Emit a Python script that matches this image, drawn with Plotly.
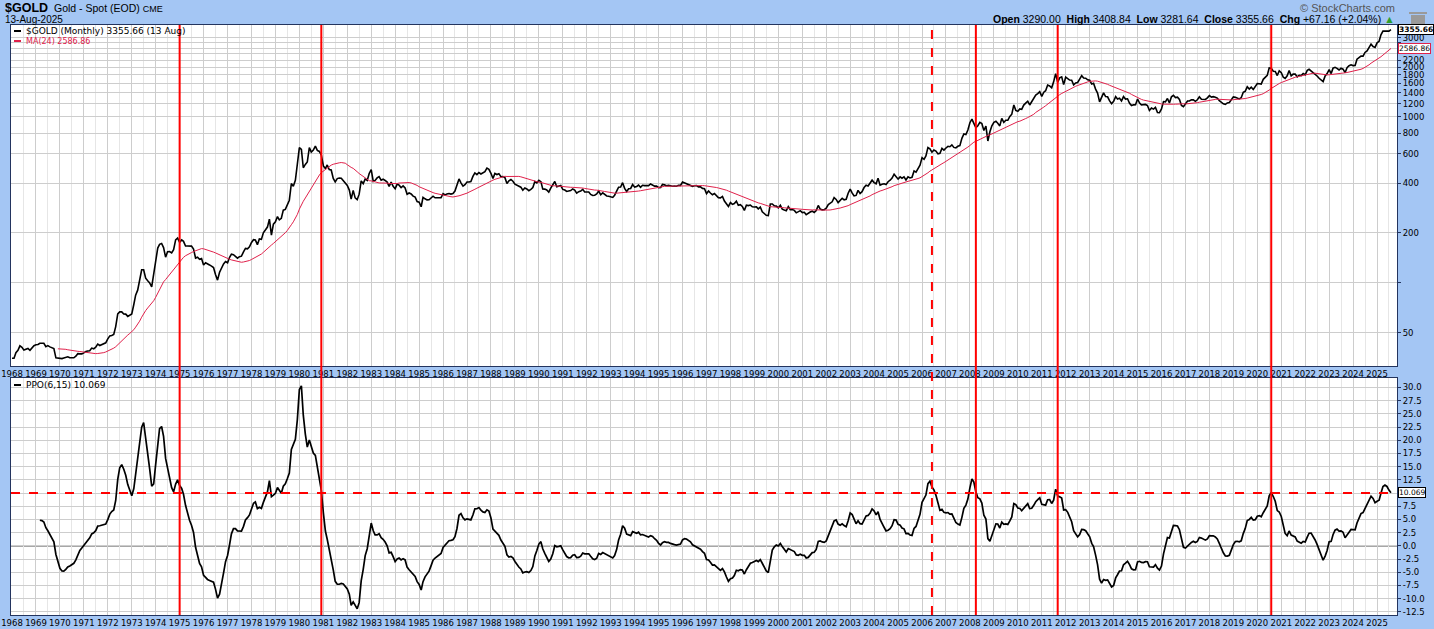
import numpy as np
import pandas as pd
import plotly.graph_objects as go

# ---------------- data: monthly closes of $GOLD ----------------
gold_1968_1979 = [
    35.2, 35.2, 38.0, 39.3, 41.8, 41.0, 39.4, 39.7, 40.3, 39.3, 40.4, 41.9,
    42.4, 42.6, 43.3, 43.4, 43.3, 41.3, 41.9, 41.2, 40.8, 40.3, 35.4, 35.2,
    34.9, 35.0, 35.3, 35.7, 35.9, 35.4, 35.3, 35.4, 36.2, 37.5, 37.4, 37.4,
    37.9, 38.7, 38.9, 39.0, 40.5, 40.1, 41.0, 42.8, 42.0, 42.5, 42.9, 43.6,
    46.0, 48.0, 48.3, 49.0, 54.6, 65.1, 67.0, 67.0, 65.0, 64.9, 62.9, 63.9,
    65.1, 74.2, 84.4, 90.5, 102.0, 120.1, 120.0, 106.8, 103.0, 100.1, 94.8, 112.3,
    139.3, 162.3, 171.0, 172.9, 163.3, 143.0, 154.1, 154.6, 151.8, 158.8, 181.8, 186.5,
    175.8, 181.8, 178.2, 167.0, 167.0, 166.3, 166.7, 159.8, 141.3, 142.9, 138.8, 140.3,
    128.2, 132.3, 129.6, 128.4, 126.3, 123.8, 112.5, 104.0, 116.0, 123.2, 130.3, 134.5,
    132.3, 142.8, 149.2, 148.0, 143.8, 141.0, 144.1, 145.0, 154.1, 161.5, 160.5, 165.0,
    175.3, 182.3, 181.6, 170.1, 184.2, 183.1, 200.3, 208.7, 217.1, 242.6, 194.3, 226.0,
    233.7, 251.3, 240.1, 245.3, 274.6, 277.5, 296.5, 315.1, 397.3, 382.0, 415.7, 512.0,
]
gold_1980_1991 = [
    653.0, 637.0, 494.5, 518.0, 535.5, 653.5, 614.3, 631.3, 666.8, 629.0, 619.8, 589.8,
    506.5, 489.0, 513.8, 482.8, 479.3, 426.0, 406.0, 425.5, 428.8, 427.0, 414.5, 397.5,
    387.0, 362.6, 320.0, 361.3, 325.3, 317.5, 342.8, 411.5, 397.0, 423.3, 414.3, 456.9,
    481.0, 408.5, 414.8, 429.3, 437.5, 416.0, 422.0, 414.3, 405.0, 382.0, 405.0, 382.4,
    370.0, 394.3, 388.5, 375.8, 384.3, 373.1, 342.4, 348.3, 343.8, 333.5, 329.0, 309.0,
    306.7, 287.8, 328.0, 321.4, 316.6, 317.0, 327.0, 333.3, 326.0, 325.5, 325.3, 326.8,
    345.5, 338.8, 344.0, 345.8, 343.2, 345.5, 357.5, 384.7, 423.2, 401.0, 383.5, 390.9,
    405.5, 405.9, 408.0, 438.3, 460.0, 449.3, 462.5, 453.4, 459.5, 468.8, 492.5, 484.1,
    458.0, 426.2, 456.9, 450.0, 455.5, 436.6, 437.4, 431.0, 397.5, 412.4, 420.2, 410.2,
    394.0, 387.0, 383.2, 377.6, 361.8, 373.0, 368.3, 359.8, 366.5, 375.3, 408.2, 401.0,
    415.1, 407.7, 368.5, 367.8, 363.1, 352.2, 372.3, 387.8, 408.4, 379.5, 384.9, 386.2,
    366.0, 362.7, 355.7, 357.8, 360.4, 368.4, 362.9, 347.4, 354.9, 357.5, 366.3, 353.2,
]
gold_1992_2003 = [
    354.1, 353.1, 341.7, 336.4, 337.5, 343.4, 357.8, 340.0, 349.0, 339.3, 334.2, 333.3,
    330.5, 327.6, 337.8, 354.3, 377.5, 378.5, 401.8, 371.6, 355.5, 369.6, 370.9, 391.8,
    377.9, 381.6, 389.2, 376.5, 387.6, 385.8, 384.0, 385.8, 394.9, 389.1, 383.1, 383.3,
    374.9, 376.4, 392.0, 389.8, 385.3, 387.1, 383.4, 382.4, 384.0, 382.7, 387.8, 387.0,
    405.6, 400.7, 396.4, 392.0, 390.6, 382.0, 385.3, 386.5, 379.0, 379.5, 371.3, 369.3,
    345.5, 358.6, 348.2, 340.2, 345.6, 334.6, 326.4, 325.4, 332.1, 311.4, 296.8, 289.2,
    304.9, 297.4, 301.0, 310.7, 293.6, 296.3, 288.9, 273.4, 293.9, 292.3, 294.7, 287.8,
    287.1, 287.3, 279.5, 286.6, 268.6, 261.0, 255.6, 254.8, 299.0, 299.1, 291.4, 290.3,
    283.3, 293.7, 278.4, 275.1, 272.3, 288.2, 276.8, 277.0, 273.7, 264.5, 269.1, 272.7,
    265.6, 266.7, 257.7, 263.2, 267.5, 270.6, 265.9, 273.0, 293.1, 278.8, 275.5, 276.5,
    282.3, 296.9, 301.4, 308.2, 326.6, 318.5, 304.7, 312.8, 323.7, 316.9, 319.1, 347.2,
    367.5, 347.5, 334.9, 336.8, 361.4, 346.0, 354.8, 375.6, 388.0, 383.8, 398.4, 416.1,
]
gold_2004_2015 = [
    402.2, 395.9, 427.3, 388.5, 393.3, 395.8, 391.4, 407.3, 415.7, 428.3, 452.4, 438.0,
    422.2, 435.5, 427.5, 435.7, 417.3, 435.5, 429.0, 433.3, 473.3, 464.8, 494.8, 513.0,
    569.0, 556.0, 582.0, 654.5, 643.5, 613.5, 633.0, 623.5, 599.3, 603.8, 646.7, 632.0,
    650.5, 665.5, 661.8, 679.0, 655.5, 650.5, 665.5, 672.0, 743.0, 789.5, 783.5, 833.8,
    923.3, 971.5, 916.0, 863.0, 885.8, 928.3, 912.3, 829.0, 880.3, 716.8, 814.5, 884.3,
    927.3, 942.0, 916.5, 883.3, 980.8, 927.0, 955.5, 955.5, 1007.5, 1040.0, 1182.0, 1096.0,
    1081.0, 1118.5, 1113.3, 1179.3, 1212.5, 1244.0, 1181.0, 1246.0, 1307.0, 1357.0, 1383.5, 1421.0,
    1332.0, 1410.0, 1439.0, 1556.0, 1536.5, 1500.0, 1628.5, 1826.0, 1620.0, 1722.0, 1746.0, 1566.0,
    1737.0, 1711.0, 1669.0, 1664.0, 1562.0, 1604.0, 1614.0, 1692.0, 1773.0, 1719.0, 1713.0, 1675.0,
    1663.0, 1578.0, 1595.0, 1472.0, 1393.0, 1234.0, 1314.0, 1396.0, 1327.0, 1323.0, 1250.0, 1202.0,
    1244.0, 1326.0, 1284.0, 1296.0, 1250.0, 1327.0, 1282.0, 1287.0, 1210.0, 1171.0, 1183.0, 1184.0,
    1283.0, 1213.0, 1183.0, 1183.0, 1190.0, 1172.0, 1095.0, 1132.0, 1115.0, 1142.0, 1065.0, 1061.0,
]
gold_2016_2025 = [
    1118.0, 1238.0, 1234.0, 1293.0, 1214.0, 1322.0, 1351.0, 1309.0, 1316.0, 1275.0, 1173.0, 1152.0,
    1211.0, 1249.0, 1249.0, 1268.0, 1268.0, 1242.0, 1269.0, 1322.0, 1280.0, 1271.0, 1275.0, 1303.0,
    1345.0, 1318.0, 1325.0, 1315.0, 1299.0, 1253.0, 1224.0, 1201.0, 1192.0, 1215.0, 1222.0, 1282.0,
    1321.0, 1313.0, 1292.0, 1284.0, 1305.0, 1409.0, 1427.0, 1520.0, 1472.0, 1513.0, 1464.0, 1517.0,
    1589.0, 1585.0, 1577.0, 1686.0, 1730.0, 1781.0, 1975.0, 1968.0, 1886.0, 1879.0, 1776.0, 1898.0,
    1847.0, 1734.0, 1708.0, 1769.0, 1907.0, 1770.0, 1814.0, 1813.0, 1743.0, 1783.0, 1774.0, 1829.0,
    1796.0, 1909.0, 1937.0, 1897.0, 1837.0, 1807.0, 1766.0, 1711.0, 1660.0, 1633.0, 1768.0, 1824.0,
    1928.0, 1827.0, 1969.0, 1990.0, 1962.0, 1919.0, 1965.0, 1940.0, 1849.0, 1983.0, 2036.0, 2063.0,
    2040.0, 2044.0, 2230.0, 2286.0, 2327.0, 2327.0, 2448.0, 2503.0, 2634.0, 2744.0, 2654.0, 2625.0,
    2798.0, 2858.0, 3124.0, 3288.0, 3289.0, 3303.0, 3290.0, 3355.66,
]
start_month = "1968-01-01"

# last values as printed on the chart
close_label = "3355.66"
ma_label = "2586.86"
ppo_label = "10.069"

# signal lines (months)
signal_solid = ["1975-01-01", "1980-12-01", "2008-04-01", "2011-09-01", "2020-08-01"]
signal_dashed = ["2006-06-01"]
ppo_level = 10.0

price_ticks = [50, 100, 200, 400, 600, 800, 1000, 1200, 1400, 1600, 1800,
               2000, 2200, 2400, 2600, 2800, 3000]
price_tick_text = ["50", "", "200", "400", "600", "800", "1000", "1200", "1400", "1600",
                   "1800", "2000", "2200", "", "", "", "3000"]
ppo_ticks = [-12.5, -10.0, -7.5, -5.0, -2.5, 0.0, 2.5, 5.0, 7.5, 10.0, 12.5, 15.0,
             17.5, 20.0, 22.5, 25.0, 27.5, 30.0]

# ---------------- derived indicators ----------------
gold = np.array(gold_1968_1979 + gold_1980_1991 + gold_1992_2003 + gold_2004_2015 + gold_2016_2025)
dates = pd.date_range(start_month, periods=len(gold), freq="MS")
ma24 = pd.Series(gold).rolling(24).mean().to_numpy()


def ema(vals, n):
    out = np.full(len(vals), np.nan)
    out[n - 1] = vals[:n].mean()
    k = 2.0 / (n + 1)
    for i in range(n, len(vals)):
        out[i] = vals[i] * k + out[i - 1] * (1 - k)
    return out


e6 = ema(gold, 6)
e15 = ema(gold, 15)
ppo = (e6 - e15) / e15 * 100.0

# ---------------- figure ----------------
FONT = "DejaVu Sans"
ARIAL = "Liberation Sans, Arial"
BG = "#A4C6F4"
AX = "#23345E"
GRID = "#CDCDCD"
GRID_MINOR = "#E6E6E6"
RED = "#FF0000"
MA_RED = "#E0204A"

fig = go.Figure()
fig.add_trace(go.Scatter(x=dates, y=gold, mode="lines", line=dict(color="black", width=1.6),
                         xaxis="x", yaxis="y", hoverinfo="skip"))
fig.add_trace(go.Scatter(x=dates, y=ma24, mode="lines", line=dict(color=MA_RED, width=1),
                         xaxis="x", yaxis="y", hoverinfo="skip"))
fig.add_trace(go.Scatter(x=dates, y=ppo, mode="lines", line=dict(color="black", width=1.7),
                         xaxis="x2", yaxis="y2", hoverinfo="skip"))

xr = ["1967-12-17", "2025-11-01"]
xcommon = dict(type="date", range=xr, dtick="M12", tick0="1968-01-01", tickformat="%Y",
               showgrid=True, gridcolor=GRID, gridwidth=1,
               minor=dict(dtick="M6", showgrid=True, gridcolor=GRID_MINOR, gridwidth=1),
               showline=True, linecolor=AX, linewidth=1, mirror=True,
               ticks="", tickfont=dict(family=FONT, size=8.5, color="black"),
               zeroline=False, automargin=False, fixedrange=True)

top_lo = (615 - 366) / 590
bot_hi = (615 - 378) / 590

fig.update_layout(
    width=1434, height=629,
    paper_bgcolor=BG, plot_bgcolor="white",
    margin=dict(l=11, r=37, t=25, b=14),
    showlegend=False,
    xaxis=dict(domain=[0, 1], anchor="y", **xcommon),
    xaxis2=dict(domain=[0, 1], anchor="y2", matches="x", **xcommon),
    yaxis=dict(domain=[top_lo, 1], type="log", anchor="x", side="right",
               range=[np.log10(31.6), np.log10(3582)],
               tickvals=price_ticks, ticktext=price_tick_text,
               ticks="outside", ticklen=3, tickcolor=AX,
               showgrid=True, gridcolor=GRID, showline=True, linecolor=AX, mirror=True,
               tickfont=dict(family=FONT, size=8.5, color="black"), automargin=False,
               zeroline=False, fixedrange=True),
    yaxis2=dict(domain=[0, bot_hi], anchor="x2", side="right",
                range=[-13.1, 31.8], tickvals=ppo_ticks,
                ticktext=["%.1f" % v for v in ppo_ticks],
                ticks="outside", ticklen=3, tickcolor=AX,
                showgrid=True, gridcolor=GRID, showline=True, linecolor=AX, mirror=True,
                tickfont=dict(family=FONT, size=8.5, color="black"), automargin=False,
                zeroline=False, fixedrange=True),
)

shapes = []
for d in signal_solid:
    shapes.append(dict(type="line", xref="x", yref="paper", x0=d, x1=d, y0=0, y1=1,
                       line=dict(color=RED, width=2), layer="above"))
for d in signal_dashed:
    shapes.append(dict(type="line", xref="x", yref="paper", x0=d, x1=d, y0=0, y1=1,
                       line=dict(color=RED, width=2, dash="dash"), layer="above"))
shapes.append(dict(type="line", xref="x2 domain", yref="y2", x0=0, x1=1, y0=0, y1=0,
                   line=dict(color="black", width=1), layer="below"))
shapes.append(dict(type="line", xref="x2 domain", yref="y2", x0=0, x1=1, y0=ppo_level, y1=ppo_level,
                   line=dict(color=RED, width=2, dash="dash"), layer="above"))


def px_x(px):
    return (px - 11) / 1386


def px_y(py):
    return (615 - py) / 590


# legend dashes
for yy, col in [(31, "black"), (41, MA_RED), (385, "black")]:
    shapes.append(dict(type="line", xref="paper", yref="paper", x0=px_x(14), x1=px_x(21),
                       y0=px_y(yy), y1=px_y(yy), line=dict(color=col, width=2)))
# trash-can icon
shapes.append(dict(type="rect", xref="paper", yref="paper", x0=px_x(1411), x1=px_x(1425),
                   y0=px_y(27), y1=px_y(15), fillcolor="#9A9A9A", line=dict(width=0)))
shapes.append(dict(type="rect", xref="paper", yref="paper", x0=px_x(1409), x1=px_x(1427),
                   y0=px_y(14), y1=px_y(12), fillcolor="#9A9A9A", line=dict(width=0)))
fig.update_layout(shapes=shapes)

ann = []
# header
ann.append(dict(text="<b>$GOLD</b>", x=px_x(3), y=px_y(7.5), xanchor="left", yanchor="middle",
                font=dict(family=ARIAL, size=12.5, color="black")))
ann.append(dict(text="Gold - Spot (EOD) <span style='font-size:9px'>CME</span>", x=px_x(52), y=px_y(7.5),
                xanchor="left", yanchor="middle", font=dict(family=ARIAL, size=10.5, color="black")))
ann.append(dict(text="13-Aug-2025", x=px_x(3), y=px_y(19.5), xanchor="left", yanchor="middle",
                font=dict(family=ARIAL, size=10, color="black")))
ann.append(dict(text="© StockCharts.com", x=px_x(1397), y=px_y(8), xanchor="right", yanchor="middle",
                font=dict(family=ARIAL, size=11, color="#555555")))
ann.append(dict(text="<b>Open</b> 3290.00  <b>High</b> 3408.84  <b>Low</b> 3281.64  "
                     "<b>Close</b> 3355.66  <b>Chg</b> +67.16 (+2.04%) <span style='color:#2E9E2E'>▲</span>",
                x=px_x(1397), y=px_y(19.5), xanchor="right", yanchor="middle",
                font=dict(family=ARIAL, size=10.5, color="black")))
# panel legends
ann.append(dict(text="$GOLD (Monthly) 3355.66 (13 Aug)", x=px_x(24), y=px_y(31), xanchor="left",
                yanchor="middle", font=dict(family=FONT, size=9, color="black")))
ann.append(dict(text="MA(24) 2586.86", x=px_x(24), y=px_y(41), xanchor="left",
                yanchor="middle", font=dict(family=FONT, size=8, color=MA_RED)))
ann.append(dict(text="PPO(6,15) 10.069", x=px_x(24), y=px_y(385), xanchor="left",
                yanchor="middle", font=dict(family=FONT, size=9, color="black")))
for a in ann:
    a.update(xref="paper", yref="paper", showarrow=False)

# right-edge value tags
ann.append(dict(text="<b>%s</b>" % close_label, xref="paper", yref="y", x=1, y=np.log10(gold[-1]),
                xanchor="left", yanchor="middle", xshift=1, showarrow=False,
                bgcolor="white", bordercolor="black", borderwidth=1, borderpad=0,
                font=dict(family=FONT, size=7.5, color="black")))
ann.append(dict(text=ma_label, xref="paper", yref="y", x=1, y=np.log10(ma24[-1]),
                xanchor="left", yanchor="middle", xshift=1, showarrow=False,
                bgcolor="white", bordercolor=MA_RED, borderwidth=1, borderpad=0,
                font=dict(family=FONT, size=7.5, color="black")))
ann.append(dict(text=ppo_label, xref="paper", yref="y2", x=1, y=ppo[-1],
                xanchor="left", yanchor="middle", xshift=1, showarrow=False,
                bgcolor="white", bordercolor="black", borderwidth=1, borderpad=0,
                font=dict(family=FONT, size=7.5, color="black")))
fig.update_layout(annotations=ann)

fig.write_html("out.html", config={"displayModeBar": False, "staticPlot": True},
               post_script="document.body.style.margin='0';document.body.style.overflow='hidden';")
